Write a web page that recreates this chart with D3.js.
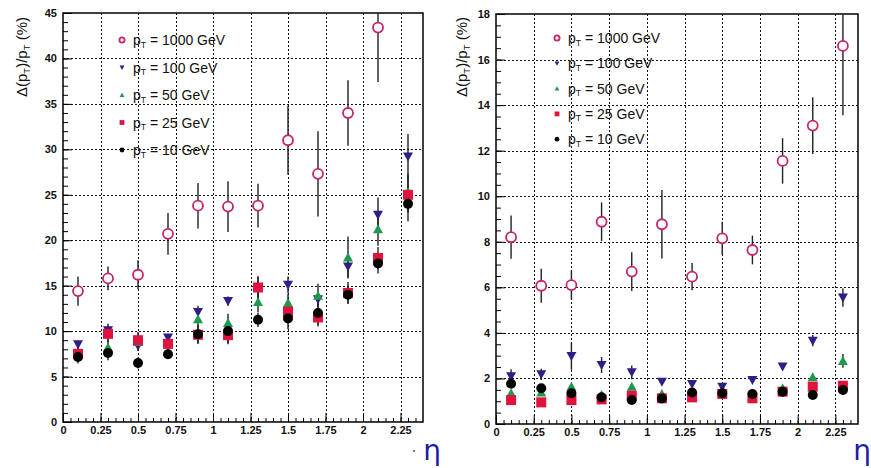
<!DOCTYPE html>
<html>
<head>
<meta charset="utf-8">
<script src="https://cdn.jsdelivr.net/npm/d3@7"></script>
<style>
  body { margin: 0; background: #fff; }
  svg { display: block; }
  .tick text { font-family: "Liberation Sans", Arial, sans-serif; font-weight: bold; font-size: 11px; }
</style>
</head>
<body>
<div id="chart"></div>
<script>
// eta bin centres
const eta = [0.1, 0.3, 0.5, 0.7, 0.9, 1.1, 1.3, 1.5, 1.7, 1.9, 2.1, 2.3]
const ptLabels = ['1000', '100', '50', '25', '10']

// left panel: resolution in %
const left1000 = [14.4, 15.8, 16.2, 20.7, 23.8, 23.7, 23.8, 31.0, 27.3, 34.0, 43.4, null]
const left100 = [8.55, 10.1, 8.4, 9.3, 12.1, 13.3, 14.8, 15.1, 13.5, 17.1, 22.8, 29.2]
const left50 = [7.6, 8.2, 8.8, 8.6, 11.3, 10.9, 13.2, 13.1, 13.9, 18.1, 21.2, 25.3]
const left25 = [7.5, 9.7, 9.0, 8.6, 9.6, 9.55, 14.8, 12.15, 11.5, 14.2, 18.05, 25.0]
const left10 = [7.15, 7.6, 6.5, 7.45, 9.65, 10.0, 11.25, 11.4, 12.0, 14.0, 17.45, 24.0]
const leftErr1000 = [1.6, 1.3, 1.6, 2.3, 2.5, 2.8, 2.4, 3.8, 4.7, 3.6, 6.0, 0]
const leftErr100 = [0.4, 0.7, 0.6, 0.4, 0.7, 0.5, 1.2, 0.9, 0.8, 1.2, 1.9, 2.5]
const leftErr50 = [0.6, 0.9, 0.8, 0.7, 0.9, 1.0, 1.1, 1.0, 1.3, 2.3, 1.8, 2.0]
const leftErr25 = [0.7, 0.9, 0.9, 0.6, 1.0, 1.0, 1.2, 1.2, 1.0, 1.2, 1.2, 2.0]
const leftErr10 = [0.7, 0.8, 0.6, 0.5, 1.0, 1.3, 0.8, 1.2, 1.3, 1.0, 1.1, 1.9]

// right panel
const right1000 = [8.2, 6.07, 6.1, 8.88, 6.69, 8.77, 6.47, 8.15, 7.64, 11.55, 13.1, 16.6]
const right100 = [2.1, 2.18, 2.98, 2.59, 2.27, 1.86, 1.76, 1.64, 1.93, 2.52, 3.66, 5.55]
const right50 = [1.35, 1.38, 1.64, 1.27, 1.64, 1.32, 1.25, 1.35, 1.2, 1.57, 2.05, 2.77]
const right25 = [1.05, 0.95, 1.05, 1.08, 1.24, 1.13, 1.17, 1.32, 1.13, 1.42, 1.64, 1.68]
const right10 = [1.77, 1.57, 1.35, 1.17, 1.05, 1.12, 1.38, 1.35, 1.32, 1.42, 1.27, 1.49]
const rightErr1000 = [0.95, 0.75, 0.65, 0.85, 0.85, 1.5, 0.6, 0.73, 0.63, 1.0, 1.25, 3.05]
const rightErr100 = [0.3, 0.25, 0.6, 0.35, 0.3, 0.12, 0.1, 0.1, 0.1, 0.1, 0.25, 0.4]
const rightErr50 = [0.1, 0.1, 0.1, 0.1, 0.1, 0.1, 0.1, 0.1, 0.1, 0.1, 0.15, 0.3]
const rightErr25 = [0.05, 0.05, 0.05, 0.05, 0.05, 0.05, 0.05, 0.05, 0.05, 0.05, 0.08, 0.1]
const rightErr10 = [0.1, 0.1, 0.1, 0.1, 0.1, 0.1, 0.1, 0.1, 0.1, 0.1, 0.1, 0.1]

const W = 871, H = 468
const colors = ['#c4246e', '#2e1e86', '#1f9a4c', '#e0123e', '#000000']
const symbols = ['openCircle', 'down', 'up', 'square', 'circle']

let svg = d3.select('#chart').append('svg')
  .attr('width', W)
  .attr('height', H)

function marker(g, kind, color, s) {
  // s = half size
  if (kind === 'openCircle') {
    g.append('circle').attr('r', s).attr('fill', '#fff').attr('stroke', color).attr('stroke-width', 1.8)
  } else if (kind === 'circle') {
    g.append('circle').attr('r', s).attr('fill', color)
  } else if (kind === 'square') {
    g.append('rect').attr('x', -s).attr('y', -s).attr('width', 2 * s).attr('height', 2 * s).attr('fill', color)
  } else if (kind === 'up') {
    g.append('path').attr('d', 'M0,' + (-s) + 'L' + s + ',' + s * 0.8 + 'L' + (-s) + ',' + s * 0.8 + 'Z').attr('fill', color)
  } else {
    g.append('path').attr('d', 'M0,' + s + 'L' + s + ',' + (-s * 0.8) + 'L' + (-s) + ',' + (-s * 0.8) + 'Z').attr('fill', color)
  }
}

function ptText(sel, rest, size) {
  sel.append('tspan').text('p')
  sel.append('tspan').text('T').attr('font-size', size * 0.62).attr('dy', size * 0.18)
  sel.append('tspan').text(rest).attr('dy', -size * 0.18)
}

function drawPanel(cfg) {
  let x = d3.scaleLinear().domain([0, 2.4]).range([cfg.left, cfg.right])
  let y = d3.scaleLinear().domain([0, cfg.ymax]).range([cfg.bottom, cfg.top])
  let g = svg.append('g')

  // grid
  let xt = d3.range(0.25, 2.4, 0.25)
  let yt = d3.range(cfg.ystep, cfg.ymax, cfg.ystep)
  g.selectAll('line.gx').data(xt).enter().append('line')
    .attr('x1', d => Math.round(x(d)) + 0.5).attr('x2', d => Math.round(x(d)) + 0.5)
    .attr('y1', cfg.top).attr('y2', cfg.bottom)
    .attr('stroke', '#111').attr('stroke-width', 1).attr('stroke-dasharray', '2,2')
  g.selectAll('line.gy').data(yt).enter().append('line')
    .attr('y1', d => Math.round(y(d)) + 0.5).attr('y2', d => Math.round(y(d)) + 0.5)
    .attr('x1', cfg.left).attr('x2', cfg.right)
    .attr('stroke', '#111').attr('stroke-width', 1).attr('stroke-dasharray', '2,2')

  // minor ticks
  g.append('g').attr('transform', 'translate(0,' + cfg.bottom + ')')
    .call(d3.axisBottom(x).tickValues(d3.range(0.05, 2.4, 0.05)).tickSize(-4).tickFormat(''))
    .call(a => a.select('.domain').remove())
  g.append('g').attr('transform', 'translate(' + cfg.left + ',0)')
    .call(d3.axisLeft(y).tickValues(d3.range(cfg.yminor, cfg.ymax, cfg.yminor)).tickSize(-5).tickFormat(''))
    .call(a => a.select('.domain').remove())

  // major axes
  g.append('g').attr('transform', 'translate(0,' + cfg.bottom + ')')
    .call(d3.axisBottom(x).tickValues(d3.range(0, 2.4, 0.25)).tickSize(-9).tickPadding(4)
      .tickFormat(d => d3.format('~g')(+d.toFixed(2))))
    .call(a => a.select('.domain').remove())
  g.append('g').attr('transform', 'translate(' + cfg.left + ',0)')
    .call(d3.axisLeft(y).tickValues(d3.range(0, cfg.ymax + 0.001, cfg.ystep)).tickSize(-9).tickPadding(6))
    .call(a => a.select('.domain').remove())
  g.selectAll('.tick line').attr('stroke', '#000')
  g.selectAll('.tick text').attr('fill', '#111')

  // frame
  g.append('rect')
    .attr('x', cfg.left).attr('y', cfg.top)
    .attr('width', cfg.right - cfg.left).attr('height', cfg.bottom - cfg.top)
    .attr('fill', 'none').attr('stroke', '#000').attr('stroke-width', 1.5)

  let clip = 'clip' + cfg.id
  svg.append('clipPath').attr('id', clip).append('rect')
    .attr('x', cfg.left).attr('y', cfg.top)
    .attr('width', cfg.right - cfg.left).attr('height', cfg.bottom - cfg.top)
  let plot = g.append('g').attr('clip-path', 'url(#' + clip + ')')

  cfg.series.forEach(function(vals, k) {
    let errs = cfg.errors[k]
    let pts = eta.map((e, i) => ({ e: e, v: vals[i], err: errs[i] })).filter(d => d.v != null)
    plot.selectAll('line.err' + k).data(pts).enter().append('line')
      .attr('x1', d => x(d.e)).attr('x2', d => x(d.e))
      .attr('y1', d => y(d.v + d.err)).attr('y2', d => y(d.v - d.err))
      .attr('stroke', '#222').attr('stroke-width', 1.4)
  })
  cfg.series.forEach(function(vals, k) {
    let pts = eta.map((e, i) => ({ e: e, v: vals[i] })).filter(d => d.v != null)
    plot.selectAll('g.m' + k).data(pts).enter().append('g')
      .attr('transform', d => 'translate(' + x(d.e) + ',' + y(d.v) + ')')
      .each(function() { marker(d3.select(this), symbols[k], colors[k], 5) })
  })

  // legend
  ptLabels.forEach(function(lab, k) {
    let yy = cfg.legY + k * cfg.legDy
    let m = g.append('g').attr('transform', 'translate(' + cfg.legX + ',' + yy + ')')
    marker(m, symbols[k], colors[k], k === 0 ? 2.6 : 2.4)
    let t = g.append('text')
      .attr('x', cfg.legX + 11).attr('y', yy + 5)
      .attr('font-family', '"Liberation Sans", Arial, sans-serif')
      .attr('font-size', 14).attr('fill', '#111')
    ptText(t, ' = ' + lab + ' GeV', 14)
  })

  // y title
  let yt2 = g.append('text')
    .attr('transform', 'translate(' + cfg.titleX + ',57) rotate(-90)')
    .attr('text-anchor', 'middle')
    .attr('font-family', '"Liberation Sans", Arial, sans-serif')
    .attr('font-size', 15).attr('fill', '#111')
  yt2.append('tspan').text('\u0394(p')
  yt2.append('tspan').text('T').attr('font-size', 9.5).attr('dy', 3)
  yt2.append('tspan').text(')/p').attr('dy', -3)
  yt2.append('tspan').text('T').attr('font-size', 9.5).attr('dy', 3)
  yt2.append('tspan').text(' (%)').attr('dy', -3)

  // eta label
  g.append('text')
    .attr('x', cfg.etaX).attr('y', 460)
    .attr('text-anchor', 'middle')
    .attr('font-family', '"DejaVu Sans", sans-serif')
    .attr('font-size', 28).attr('fill', '#1c1ca8')
    .text('\u03b7')
}

drawPanel({
  id: 'L', left: 63, right: 423, top: 13, bottom: 422, ymax: 45, ystep: 5, yminor: 1,
  series: [left1000, left100, left50, left25, left10],
  errors: [leftErr1000, leftErr100, leftErr50, leftErr25, leftErr10],
  legX: 122, legY: 40, legDy: 27.5, titleX: 27, etaX: 432
})
drawPanel({
  id: 'R', left: 496, right: 858, top: 14, bottom: 424, ymax: 18, ystep: 2, yminor: 0.5,
  series: [right1000, right100, right50, right25, right10],
  errors: [rightErr1000, rightErr100, rightErr50, rightErr25, rightErr10],
  legX: 557, legY: 38, legDy: 25.3, titleX: 467, etaX: 862
})

// small dot left of the first eta
svg.append('circle').attr('cx', 414).attr('cy', 451).attr('r', 1).attr('fill', '#444')
</script>
</body>
</html>
